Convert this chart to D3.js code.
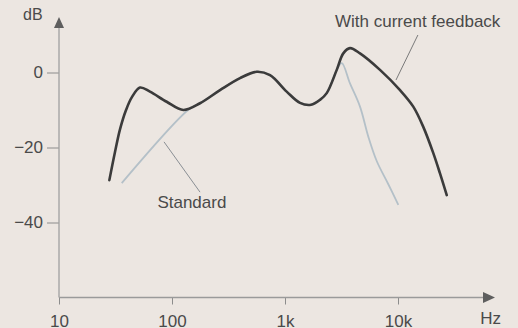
<!DOCTYPE html>
<html><head><meta charset="utf-8">
<script src="https://cdn.jsdelivr.net/npm/d3@7"></script>
<style>
html,body{margin:0;padding:0;background:#ece6e1;}
svg{display:block;}
text{font-family:"Liberation Sans",Arial,Helvetica,sans-serif;}
</style></head>
<body>
<svg id="c" width="518" height="328"></svg>
<script>
// Frequency (Hz) and level (dB)
const feedbackFreq = [27.9, 31.3, 34.7, 39.2, 44.3, 52.1, 63.8, 89.7, 126, 177, 266, 400, 562, 737, 1035, 1358, 1700, 2040, 2340, 2870, 3280, 3760, 4610, 6930, 10420, 13650, 16740, 20530, 23530, 27000];
const feedbackDb   = [-28.7, -21.2, -15.1, -10.0, -6.5, -4.0, -5.1, -7.8, -10.0, -8.2, -4.7, -1.5, 0.2, -0.7, -5.1, -8.1, -8.6, -7.3, -5.5, 0.7, 5.1, 6.5, 5.1, 0.7, -4.7, -9.1, -14.5, -21.5, -26.9, -32.7];
const standardFreq = [35.9, 139, 177, 266, 400, 562, 737, 1035, 1358, 1700, 2040, 2340, 2870, 3180, 3760, 4610, 5460, 6480, 8210, 10070];
const standardDb   = [-29.5, -10.0, -8.2, -4.7, -1.5, 0.2, -0.7, -5.1, -8.1, -8.6, -7.3, -5.5, 0.7, 2.5, -2.9, -9.1, -17.1, -23.6, -29.8, -35.3];
const xTickValues = [10, 100, 1000, 10000];
const xTickLabels = ["10", "100", "1k", "10k"];
const yTickValues = [0, -20, -40];
const yTickLabels = ["0", "\u221220", "\u221240"];

const svg = d3.select("#c");
const x = d3.scaleLog().domain([10, 10000]).range([59, 398]);
const y = d3.scaleLinear().domain([-40, 0]).range([222.5, 72.5]);
const axisY = y(-60);      // x-axis baseline
const topDb = 14.8;        // top of y axis (arrow tip)
const rightHz = 10000 * Math.pow(10, (495 - 398) / 113);

// X axis
const gx = svg.append("g").attr("transform", `translate(0,${axisY})`)
  .call(d3.axisBottom(x).tickValues(xTickValues)
    .tickFormat((d, i) => xTickLabels[i]).tickSize(7).tickPadding(10));
gx.select(".domain").remove();
gx.selectAll(".tick line").attr("stroke", "#8c8c8c");
gx.selectAll(".tick text").attr("fill", "#4a4a4a").attr("font-size", 17)
  .attr("font-family", "Liberation Sans, Arial, sans-serif");
svg.append("line").attr("x1", x(10)).attr("x2", x(rightHz) - 10)
  .attr("y1", axisY).attr("y2", axisY).attr("stroke", "#9a9a9a").attr("stroke-width", 1.3);
svg.append("path")
  .attr("d", `M${x(rightHz)},${axisY} l-12,-5.5 l0,11 z`).attr("fill", "#5e5e5e");

// Y axis
const gy = svg.append("g").attr("transform", `translate(${x(10)},0)`)
  .call(d3.axisLeft(y).tickValues(yTickValues)
    .tickFormat((d, i) => yTickLabels[i]).tickSize(12).tickPadding(4));
gy.select(".domain").remove();
gy.selectAll(".tick line").attr("stroke", "#8c8c8c");
gy.selectAll(".tick text").attr("fill", "#4a4a4a").attr("font-size", 17)
  .attr("font-family", "Liberation Sans, Arial, sans-serif");
svg.append("line").attr("x1", x(10)).attr("x2", x(10))
  .attr("y1", axisY).attr("y2", y(topDb) + 10).attr("stroke", "#a0a0a0").attr("stroke-width", 1.3);
svg.append("path")
  .attr("d", `M${x(10)},${y(topDb)} l-5,11 l10,0 z`).attr("fill", "#5e5e5e");

// Axis titles
svg.append("text").attr("x", x(rightHz) + 6).attr("y", 324).attr("text-anchor", "end")
  .attr("font-size", 17).attr("fill", "#4a4a4a").text("Hz");
svg.append("text").attr("x", 23).attr("y", 20)
  .attr("font-size", 16).attr("fill", "#4a4a4a").text("dB");

// Curves
const line = d3.line().curve(d3.curveCatmullRom.alpha(0.5))
  .x(d => x(d[0])).y(d => y(d[1]));
const standard = standardFreq.map((f, i) => [f, standardDb[i]]);
const feedback = feedbackFreq.map((f, i) => [f, feedbackDb[i]]);

svg.append("path").datum(standard).attr("d", line)
  .attr("fill", "none").attr("stroke", "#b4c0c8").attr("stroke-width", 1.8);
svg.append("path").datum(feedback).attr("d", line)
  .attr("fill", "none").attr("stroke", "#3b3b3b").attr("stroke-width", 2.6)
  .attr("stroke-linecap", "round");

// Annotations (in data space)
const stdPointer = [[85, -18.5], [177, -31.9]];
const fbPointer = [[15000, 10], [9600, -2]];
svg.append("line").attr("x1", x(stdPointer[0][0])).attr("y1", y(stdPointer[0][1]))
  .attr("x2", x(stdPointer[1][0])).attr("y2", y(stdPointer[1][1]))
  .attr("stroke", "#8a8f94").attr("stroke-width", 1);
svg.append("line").attr("x1", x(fbPointer[0][0])).attr("y1", y(fbPointer[0][1]))
  .attr("x2", x(fbPointer[1][0])).attr("y2", y(fbPointer[1][1]))
  .attr("stroke", "#7a7a7a").attr("stroke-width", 1);
svg.append("text").attr("x", x(150)).attr("y", y(-36.1)).attr("text-anchor", "middle")
  .attr("font-size", 17).attr("fill", "#4a4a4a").text("Standard");
svg.append("text").attr("x", x(2770)).attr("y", y(12.1))
  .attr("font-size", 17).attr("fill", "#4a4a4a").text("With current feedback");
</script>
</body></html>
